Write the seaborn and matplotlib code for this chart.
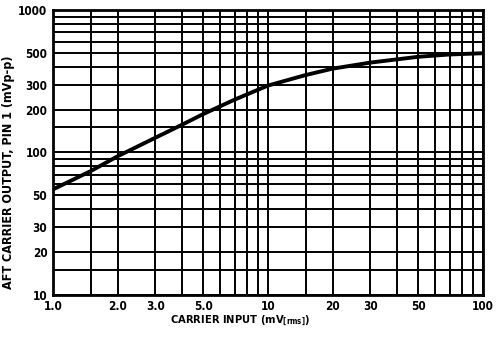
import matplotlib
matplotlib.use("Agg")
import matplotlib.pyplot as plt
import numpy as np
import pandas as pd
import seaborn as sns
from matplotlib import font_manager
from matplotlib.ticker import FixedLocator, NullFormatter

# values
carrier_input = [1.0, 1.5, 2.0, 3.0, 4.0, 5.0, 7.0, 10, 15, 20, 30, 50, 70, 100]
aft_output = [55, 74, 94, 127, 157, 186, 235, 295, 350, 388, 428, 470, 488, 498]

x_major = [1, 2, 3, 5, 10, 20, 30, 50, 100]
x_labels = ["1.0", "2.0", "3.0", "5.0", "10", "20", "30", "50", "100"]
x_minor = [1.5, 4, 6, 7, 8, 9, 15, 40, 60, 70, 80, 90]
y_major = [10, 20, 30, 50, 100, 200, 300, 500, 1000]
y_labels = ["10", "20", "30", "50", "100", "200", "300", "500", "1000"]
y_minor = [15, 40, 60, 70, 80, 90, 150, 400, 600, 700, 800, 900]

sns.set_style("white")

# look for a narrow bold face, the scan uses a condensed gothic
narrow = None
for f in font_manager.fontManager.ttflist:
    low = f.fname.lower()
    if ("narrow" in low or "condensed" in low) and f.weight in (700, "bold"):
        narrow = f
        break
if narrow is not None:
    plt.rcParams["font.family"] = [narrow.name, "DejaVu Sans"]
    plt.rcParams["font.stretch"] = narrow.stretch
else:
    plt.rcParams["font.family"] = ["DejaVu Sans"]
plt.rcParams["font.weight"] = "bold"
plt.rcParams["text.color"] = "black"
plt.rcParams["axes.labelcolor"] = "black"
plt.rcParams["xtick.color"] = "black"
plt.rcParams["ytick.color"] = "black"

df = pd.DataFrame({"x": carrier_input, "y": aft_output})

fig = plt.figure(figsize=(5.03, 3.37), dpi=100)
ax = fig.add_axes([0.105, 0.125, 0.855, 0.845])

sns.lineplot(data=df, x="x", y="y", ax=ax, color="black", linewidth=2.8)

ax.set_xscale("log")
ax.set_yscale("log")
ax.set_xlim(1, 100)
ax.set_ylim(10, 1000)

ax.xaxis.set_major_locator(FixedLocator(x_major))
ax.xaxis.set_minor_locator(FixedLocator(x_minor))
ax.yaxis.set_major_locator(FixedLocator(y_major))
ax.yaxis.set_minor_locator(FixedLocator(y_minor))
ax.set_xticklabels(x_labels)
ax.set_yticklabels(y_labels)
ax.xaxis.set_minor_formatter(NullFormatter())
ax.yaxis.set_minor_formatter(NullFormatter())

ax.grid(True, which="both", color="black", linewidth=1.4)
ax.tick_params(which="both", length=0, labelsize=8.5)
ax.tick_params(axis="x", pad=4)
ax.tick_params(axis="y", pad=4)
for s in ax.spines.values():
    s.set_color("black")
    s.set_linewidth(2)

ax.set_xlabel("CARRIER INPUT (mV$_{\\mathregular{[rms]}}$)", fontsize=8,
              fontweight="bold")
ax.xaxis.set_label_coords(0.435, -0.065)
ax.set_ylabel("AFT CARRIER OUTPUT, PIN 1 (mVp-p)", fontsize=9,
              fontweight="bold")
ax.yaxis.set_label_coords(-0.088, 0.43)

fig.savefig("out.png", dpi=100)
